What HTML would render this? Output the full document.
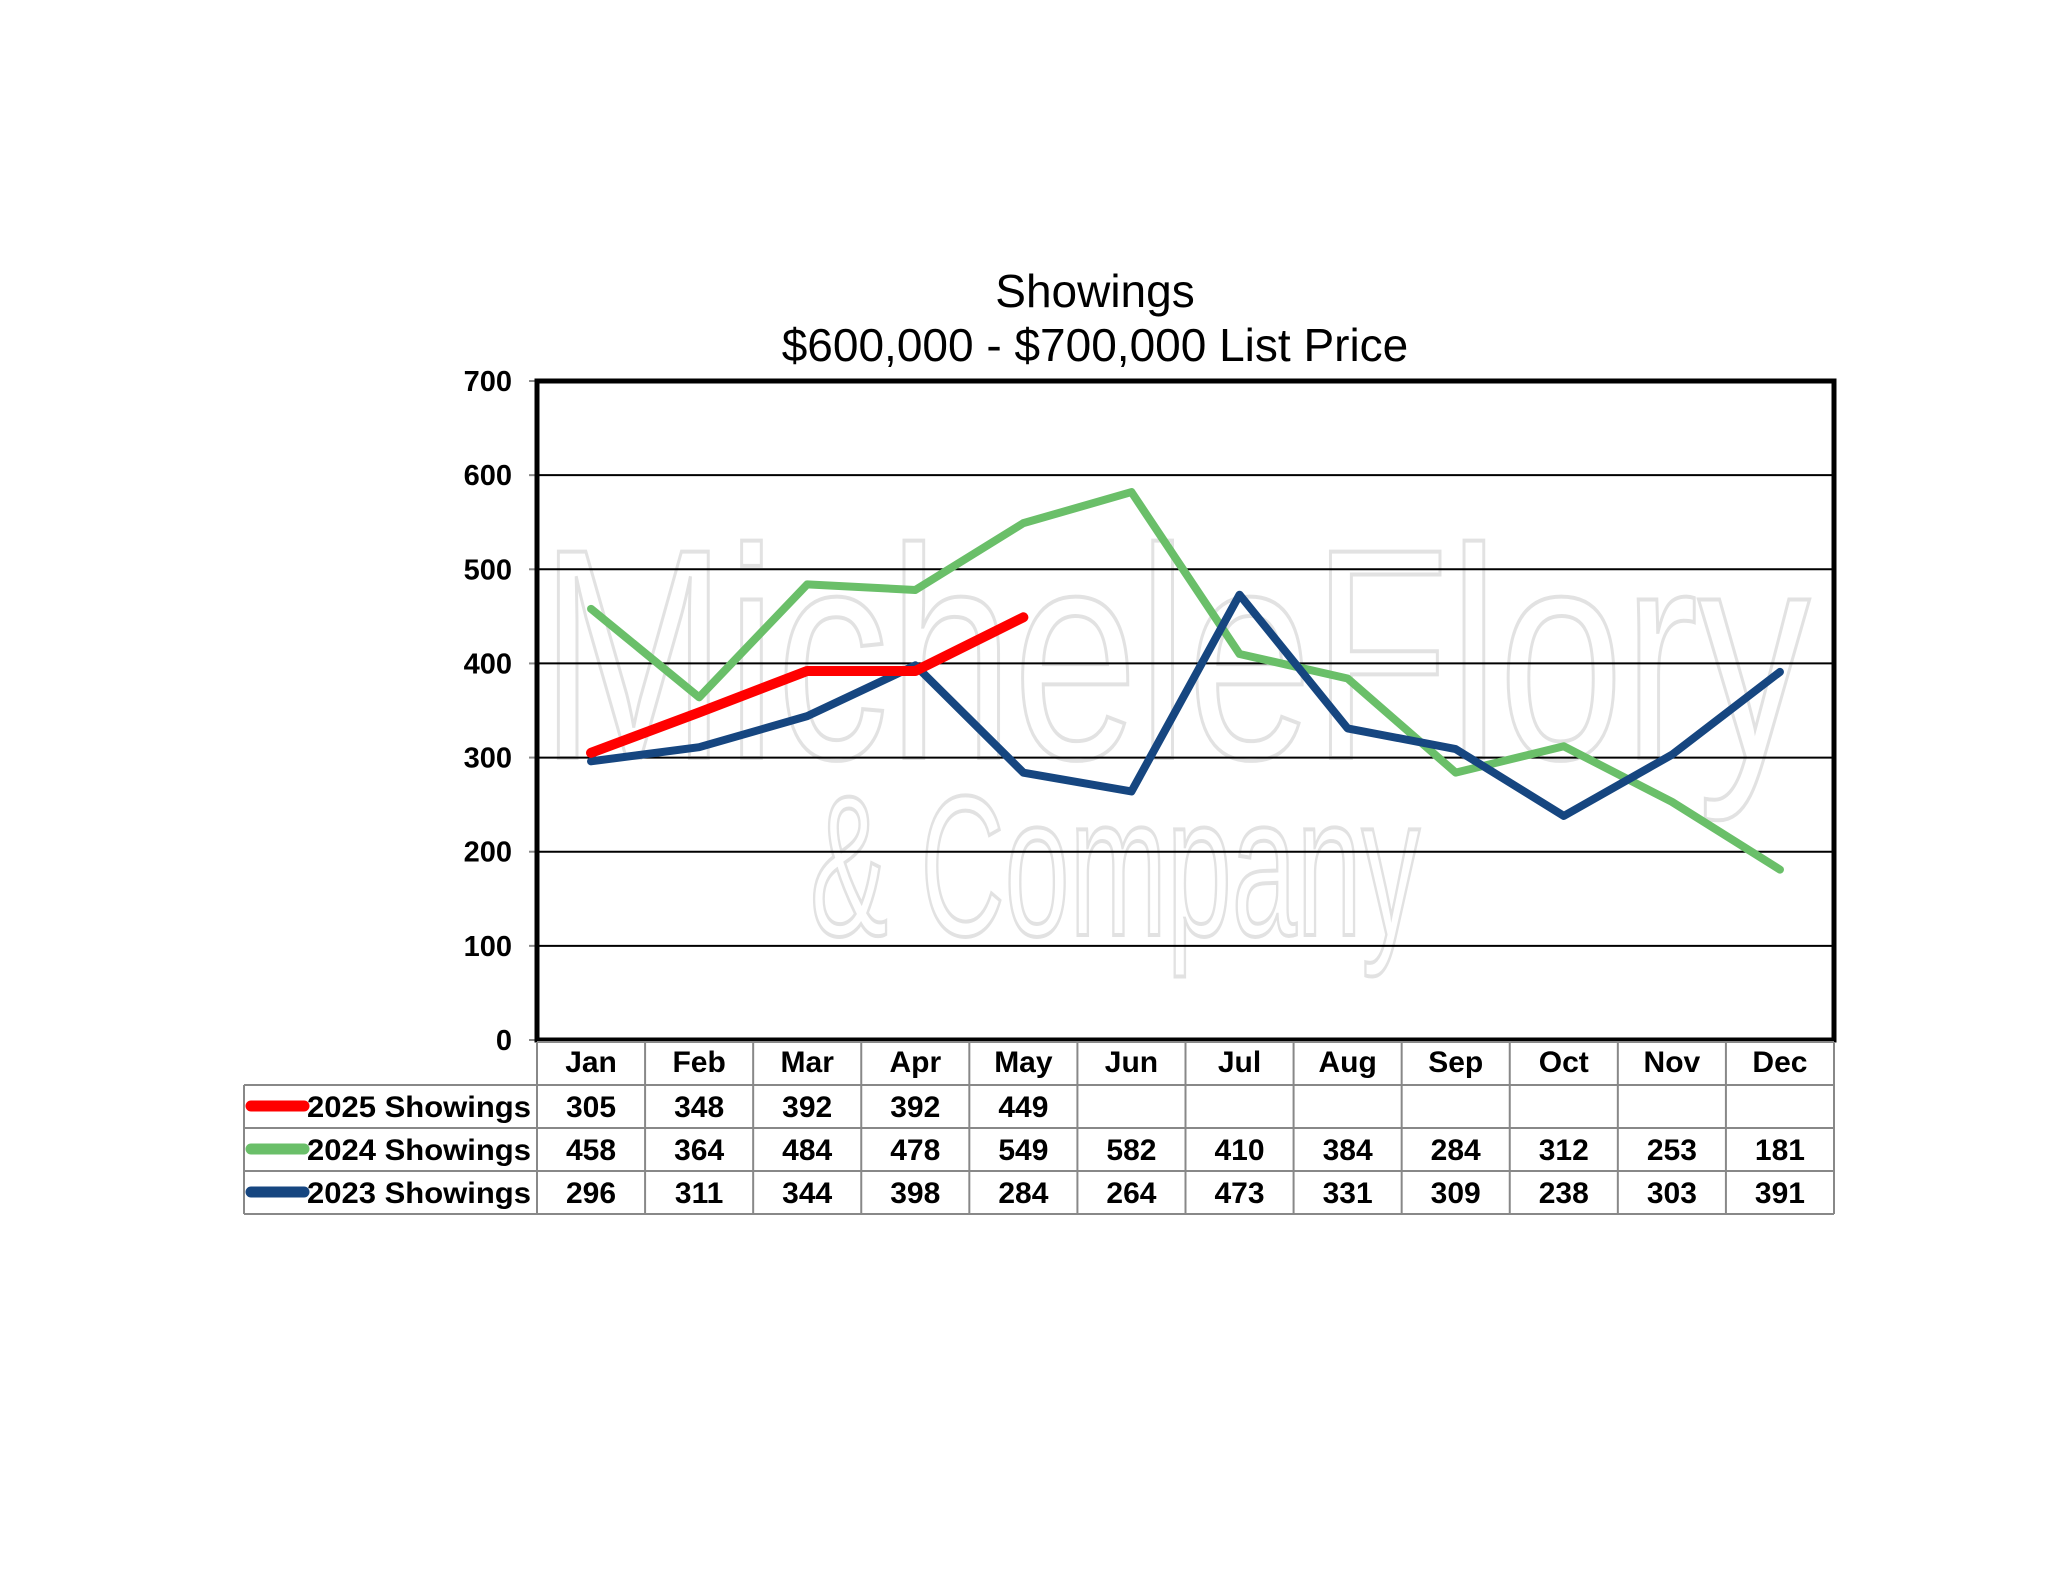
<!DOCTYPE html>
<html><head><meta charset="utf-8"><style>
body{margin:0;background:#fff;}
svg{display:block;font-family:"Liberation Sans",Arial,sans-serif;}
</style></head><body>
<svg id="chart" width="2048" height="1583" viewBox="0 0 2048 1583">
<rect width="2048" height="1583" fill="#fff"/>
<text x="1095" y="307" font-size="46" text-anchor="middle">Showings</text>
<text x="1095" y="361" font-size="46" text-anchor="middle">$600,000 - $700,000 List Price</text>
<g fill="none" stroke="#e2e2e2" stroke-width="4">
<text x="540" y="758" font-size="300" textLength="1270" lengthAdjust="spacingAndGlyphs">MicheleFlory</text>
<text x="810" y="935" font-size="200" textLength="610" lengthAdjust="spacingAndGlyphs">&amp; Company</text>
</g>
<g id="grid"></g>
<g id="series"></g>
<g id="table"></g>
</svg>
<script>
const months=["Jan","Feb","Mar","Apr","May","Jun","Jul","Aug","Sep","Oct","Nov","Dec"];
const s2025=[305,348,392,392,449];
const s2024=[458,364,484,478,549,582,410,384,284,312,253,181];
const s2023=[296,311,344,398,284,264,473,331,309,238,303,391];
const yTicks=[0,100,200,300,400,500,600,700];
const seriesNames=["2025 Showings","2024 Showings","2023 Showings"];
const seriesColors=["#ff0000","#6abf69","#164680"];

const NS="http://www.w3.org/2000/svg";
const L=537,R=1834,T=381,B=1040,YMAX=700;
const cw=(R-L)/12;
function xs(i){return L+cw*(i+0.5);}
function ys(v){return B-v*(B-T)/YMAX;}
function mk(tag,attrs,parent,txt){const e=document.createElementNS(NS,tag);for(const k in attrs)e.setAttribute(k,attrs[k]);if(txt!==undefined)e.textContent=txt;parent.appendChild(e);return e;}

const grid=document.getElementById('grid');
yTicks.forEach(v=>{
  const y=ys(v);
  if(v>0&&v<YMAX){const g=mk('line',{x1:L,x2:R,y1:y,y2:y,stroke:'#000','stroke-width':2},grid);
  
  }
  const tk=mk('line',{x1:L-8,x2:L,y1:y,y2:y,stroke:'#888','stroke-width':2},grid);
  
  
  const t=mk('text',{x:L-25,y:y+10,'font-size':29,'font-weight':'bold','text-anchor':'end'},grid,String(v));
  
  
});
const fr=mk('rect',{x:L,y:T,width:R-L,height:B-T,fill:'none',stroke:'#000','stroke-width':5},grid);



const ser=document.getElementById('series');
[[s2024,1,8],[s2023,2,8],[s2025,0,10]].forEach(([d,ci,w])=>{
  const p=mk('polyline',{points:d.map((v,i)=>xs(i)+','+ys(v)).join(' '),fill:'none',stroke:seriesColors[ci],'stroke-width':w,'stroke-linejoin':'round','stroke-linecap':'round'},ser);
  
  
});

const tb=document.getElementById('table');
const TL=244,rowY=[1042,1085,1128,1171,1214];
const gs={stroke:'#888','stroke-width':2};
for(let i=0;i<=12;i++){const x=L+cw*i;mk('line',Object.assign({x1:x,x2:x,y1:rowY[0],y2:rowY[4]},gs),tb);}
mk('line',Object.assign({x1:TL,x2:TL,y1:rowY[1],y2:rowY[4]},gs),tb);
mk('line',Object.assign({x1:L,x2:R,y1:rowY[0],y2:rowY[0]},gs),tb);
for(let r=1;r<=4;r++)mk('line',Object.assign({x1:TL,x2:R,y1:rowY[r],y2:rowY[r]},gs),tb);
months.forEach((m,i)=>{
  const t=mk('text',{x:xs(i),y:rowY[0]+30,'font-size':30,'font-weight':'bold','text-anchor':'middle'},tb,m);
  
  
});
[s2025,s2024,s2023].forEach((d,r)=>{
  const cy=rowY[r+1]+21;
  const sw=mk('line',{x1:TL+7,x2:TL+60,y1:cy,y2:cy,stroke:seriesColors[r],'stroke-width':11,'stroke-linecap':'round'},tb);
  
  
  const lt=mk('text',{x:L-6,y:cy+11,'font-size':30,'font-weight':'bold','text-anchor':'end',textLength:224,lengthAdjust:'spacingAndGlyphs'},tb,seriesNames[r]);
  
  
  d.forEach((v,i)=>{
    const c=mk('text',{x:xs(i),y:cy+11,'font-size':30,'font-weight':'bold','text-anchor':'middle'},tb,String(v));
    
    
  });
});
</script>
</body></html>
